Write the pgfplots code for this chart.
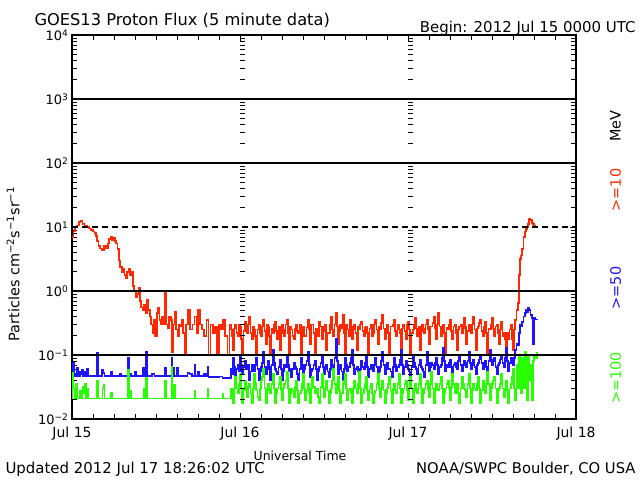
\documentclass[border=0pt]{standalone}
\usepackage{pgfplots}
\pgfplotsset{compat=1.18}
\usepackage{fontspec}
\setmainfont{DejaVu Sans}
\definecolor{pred}{RGB}{255,40,0}
\definecolor{pblue}{RGB}{30,20,255}
\definecolor{pgreen}{RGB}{40,255,0}
\begin{document}
\begin{tikzpicture}[x=1bp,y=1bp]
\begin{axis}[
  at={(0,0)}, anchor=south west,
  width=504bp, height=384bp, scale only axis,
  xmin=0, xmax=72,
  ymode=log, ymin=0.01, ymax=10000,
  xtick={0,24,48,72},
  xticklabels={Jul 15,Jul 16,Jul 17,Jul 18},
  minor xtick={3,6,9,12,15,18,21,27,30,33,36,39,42,45,51,54,57,60,63,66,69},
  ytick={0.01,0.1,1,10,100,1000,10000},
  yticklabels={10\textsuperscript{−2},10\textsuperscript{−1},10\textsuperscript{0},10\textsuperscript{1},10\textsuperscript{2},10\textsuperscript{3},10\textsuperscript{4}},
  tick align=inside,
  major tick length=6bp, minor tick length=5bp,
  tick style={black, line width=0.8bp},
  axis line style={black, line width=1.2bp},
  xticklabel style={font=\fontsize{14}{16}\selectfont, yshift=-4bp},
  yticklabel style={font=\fontsize{13}{15}\selectfont},
  every axis plot/.append style={const plot, line width=1.7bp},
  clip=true,
]
% >=10 MeV (x in hours from Jul 15 00:00 UT)
\addplot[pred] coordinates {
(0.0,7.0) (0.2,8.5) (0.4,10) (0.7,10.5) (1.0,12) (1.2,12.5) (1.5,11) (1.8,10.5)
(2.1,10) (2.4,9.5) (2.7,9) (3.0,8.5) (3.2,8.0) (3.4,7.2) (3.6,6.0) (3.8,5.0)
(4.0,4.6) (4.3,4.4) (4.6,5.0) (4.9,4.7) (5.1,5.5) (5.3,6.5) (5.5,7.0) (5.7,6.2)
(5.9,6.8) (6.1,6.0) (6.3,5.5) (6.5,4.5) (6.7,3.0) (6.9,2.4) (7.1,2.0) (7.3,2.2)
(7.5,1.8) (7.7,1.6) (7.9,2.0) (8.1,2.2) (8.3,1.8) (8.5,2.0) (8.7,1.2) (8.9,1.0)
(9.1,0.8) (9.3,0.9) (9.5,1.1) (9.7,0.7) (9.9,0.55) (10.1,0.5) (10.3,0.6) (10.5,0.45)
(10.7,0.72) (10.9,0.5) (11.1,0.4) (11.3,0.3) (11.5,0.22) (11.7,0.35) (11.9,0.2) (12.1,0.45)
(12.3,0.55) (12.5,0.35) (12.7,0.3) (12.9,0.4) (13.1,0.3) (13.3,0.97) (13.5,0.3) (13.7,0.26)
(13.9,0.4) (14.1,0.35) (14.3,0.11) (14.5,0.3) (14.7,0.47) (14.9,0.25) (15.1,0.2) (15.3,0.3)
(15.5,0.28) (15.7,0.35) (15.9,0.22) (16.1,0.1) (16.3,0.3) (16.6,0.5) (16.9,0.25) (17.2,0.3)
(17.5,0.4) (17.8,0.22) (18.0,0.5) (18.3,0.3) (18.6,0.25) (18.9,0.2) (19.2,0.35) (19.5,0.1)
(19.8,0.3) (20.1,0.22) (20.4,0.28) (20.7,0.1) (21.0,0.3) (21.3,0.25) (21.6,0.35) (21.9,0.2)
(22.2,0.1) (22.5,0.3)
(22.67,0.25) (22.83,0.2) (23.00,0.12) (23.17,0.26) (23.33,0.3) (23.5,0.22) (23.67,0.2) (23.83,0.3)
(24.00,0.28) (24.17,0.18) (24.33,0.1) (24.5,0.24) (24.67,0.33) (24.83,0.26) (25.00,0.22) (25.17,0.3)
(25.33,0.4) (25.5,0.22) (25.67,0.18) (25.83,0.28) (26.00,0.25) (26.17,0.2) (26.33,0.1) (26.5,0.25)
(26.67,0.3) (26.83,0.22) (27.00,0.2) (27.17,0.28) (27.33,0.36) (27.5,0.24) (27.67,0.15) (27.83,0.3)
(28.00,0.28) (28.17,0.2) (28.33,0.1) (28.5,0.26) (28.67,0.22) (28.83,0.3) (29.00,0.33) (29.17,0.24)
(29.33,0.18) (29.5,0.28) (29.67,0.12) (29.83,0.22) (30.00,0.3) (30.17,0.25) (30.33,0.2) (30.5,0.3)
(30.67,0.36) (30.83,0.22) (31.00,0.1) (31.17,0.28) (31.33,0.25) (31.5,0.2) (31.67,0.18) (31.83,0.26)
(32.00,0.3) (32.17,0.24) (32.33,0.22) (32.5,0.3) (32.67,0.1) (32.83,0.22) (33.00,0.28) (33.17,0.2)
(33.33,0.2) (33.5,0.27) (33.67,0.36) (33.83,0.25) (34.00,0.15) (34.17,0.3) (34.33,0.3) (34.5,0.22)
(34.67,0.1) (34.83,0.26) (35.00,0.25) (35.17,0.2) (35.33,0.33) (35.5,0.28) (35.67,0.18) (35.83,0.24)
(36.00,0.28) (36.17,0.3) (36.33,0.12) (36.5,0.22) (36.67,0.22) (36.83,0.3) (37.00,0.4) (37.17,0.25)
(37.33,0.2) (37.5,0.3) (37.67,0.45) (37.83,0.28) (38.00,0.15) (38.17,0.24) (38.33,0.3) (38.5,0.26)
(38.67,0.42) (38.83,0.22) (39.00,0.1) (39.17,0.3) (39.33,0.25) (39.5,0.2) (39.67,0.36) (39.83,0.28)
(40.00,0.18) (40.17,0.25) (40.33,0.3) (40.5,0.22) (40.67,0.12) (40.83,0.28) (41.00,0.25) (41.17,0.3)
(41.33,0.33) (41.5,0.24) (41.67,0.2) (41.83,0.27) (42.00,0.28) (42.17,0.22) (42.33,0.1) (42.5,0.26)
(42.67,0.3) (42.83,0.2) (43.00,0.22) (43.17,0.3) (43.33,0.36) (43.5,0.25) (43.67,0.15) (43.83,0.28)
(44.00,0.25) (44.17,0.32) (44.33,0.42) (44.5,0.26) (44.67,0.18) (44.83,0.24) (45.00,0.3) (45.17,0.22)
(45.33,0.1) (45.5,0.28) (45.67,0.28) (45.83,0.3) (46.00,0.36) (46.17,0.24) (46.33,0.2) (46.5,0.3)
(46.67,0.25) (46.83,0.22) (47.00,0.12) (47.17,0.26) (47.33,0.3) (47.5,0.24) (47.67,0.18) (47.83,0.3)
(48.00,0.33) (48.17,0.25) (48.33,0.1) (48.5,0.22) (48.67,0.25) (48.83,0.3) (49.00,0.38) (49.17,0.26)
(49.33,0.2) (49.5,0.28) (49.67,0.12) (49.83,0.24) (50.00,0.3) (50.17,0.26) (50.33,0.22) (50.5,0.3)
(50.67,0.36) (50.83,0.25) (51.00,0.15) (51.17,0.28) (51.33,0.28) (51.5,0.32) (51.67,0.4) (51.83,0.26)
(52.00,0.18) (52.17,0.3) (52.33,0.45) (52.5,0.28) (52.67,0.2) (52.83,0.25) (53.00,0.3) (53.17,0.22)
(53.33,0.1) (53.5,0.27) (53.67,0.25) (53.83,0.3) (54.00,0.36) (54.17,0.24) (54.33,0.18) (54.5,0.28)
(54.67,0.3) (54.83,0.22) (55.00,0.12) (55.17,0.25) (55.33,0.28) (55.5,0.3) (55.67,0.22) (55.83,0.26)
(56.00,0.38) (56.17,0.28) (56.33,0.15) (56.5,0.24) (56.67,0.3) (56.83,0.26) (57.00,0.22) (57.17,0.3)
(57.33,0.4) (57.5,0.25) (57.67,0.12) (57.83,0.26) (58.00,0.28) (58.17,0.32) (58.33,0.36) (58.5,0.24)
(58.67,0.2) (58.83,0.28) (59.00,0.33) (59.17,0.22) (59.33,0.1) (59.5,0.26) (59.67,0.25) (59.83,0.3)
(60.00,0.38) (60.17,0.26) (60.33,0.2) (60.5,0.28) (60.67,0.3) (60.83,0.22) (61.00,0.15) (61.17,0.25)
(61.33,0.33) (61.5,0.2) (61.67,0.22) (61.83,0.18) (62.00,0.12) (62.17,0.22) (62.33,0.18) (62.5,0.25)
(62.67,0.3) (62.83,0.18) (63.00,0.12) (63.17,0.25) (63.33,0.35)
(63.5,0.5) (63.67,0.65) (63.83,1.8) (64.0,3.2) (64.17,3.6) (64.33,4.5) (64.5,7) (64.67,8.5)
(64.83,9.2) (65.0,10) (65.17,11) (65.33,13.5) (65.5,13) (65.67,11.5) (65.83,11) (66.0,10.5)
(66.17,10.2) (66.42,10)
};
% >=50 MeV
\addplot[pblue] coordinates {
(0,0.047) (0.05,0.075) (0.25,0.05) (0.4,0.047) (0.7,0.063) (0.85,0.047) (1.1,0.055) (1.25,0.05)
(1.4,0.058) (1.55,0.047) (1.8,0.055) (1.95,0.047) (2.1,0.06) (2.25,0.047) (3.55,0.107) (3.7,0.047)
(4.3,0.058) (4.5,0.052) (4.65,0.047) (5.55,0.055) (5.7,0.047) (6.8,0.05) (7.0,0.047) (7.95,0.09)
(8.1,0.047) (8.3,0.05) (8.45,0.047) (9.0,0.055) (9.2,0.047) (10.1,0.063) (10.25,0.047) (10.55,0.11)
(10.7,0.047) (11.4,0.05) (11.8,0.047) (13.25,0.063) (13.4,0.047) (14.2,0.09) (14.35,0.047) (14.5,0.063)
(14.65,0.047) (15.0,0.063) (15.15,0.047) (16.5,0.052) (16.8,0.05) (17.1,0.047) (17.5,0.07) (17.65,0.047)
(18.0,0.055) (18.15,0.047) (18.9,0.05) (19.1,0.047) (19.35,0.065) (19.5,0.045) (21.0,0.046) (21.5,0.044)
(22.67,0.06) (22.83,0.05) (23.00,0.09) (23.17,0.065) (23.33,0.045) (23.5,0.06) (23.67,0.07) (23.83,0.055)
(24.00,0.1) (24.17,0.07) (24.33,0.05) (24.5,0.065) (24.67,0.08) (24.83,0.06) (25.00,0.06) (25.17,0.07)
(25.33,0.04) (25.5,0.055) (25.67,0.07) (25.83,0.06) (26.00,0.055) (26.17,0.07) (26.33,0.09) (26.5,0.06)
(26.67,0.04) (26.83,0.055) (27.00,0.065) (27.17,0.075) (27.33,0.11) (27.5,0.065) (27.67,0.05) (27.83,0.06)
(28.00,0.08) (28.17,0.065) (28.33,0.04) (28.5,0.07) (28.67,0.12) (28.83,0.075) (29.00,0.06) (29.17,0.055)
(29.33,0.05) (29.5,0.065) (29.67,0.085) (29.83,0.06) (30.00,0.04) (30.17,0.055) (30.33,0.07) (30.5,0.065)
(30.67,0.1) (30.83,0.07) (31.00,0.055) (31.17,0.06) (31.33,0.045) (31.5,0.06) (31.67,0.075) (31.83,0.065)
(32.00,0.06) (32.17,0.05) (32.33,0.04) (32.5,0.06) (32.67,0.09) (32.83,0.07) (33.00,0.05) (33.17,0.06)
(33.33,0.07) (33.5,0.08) (33.67,0.11) (33.83,0.07) (34.00,0.045) (34.17,0.055) (34.33,0.06) (34.5,0.07)
(34.67,0.08) (34.83,0.06) (35.00,0.04) (35.17,0.055) (35.33,0.065) (35.5,0.075) (35.67,0.1) (35.83,0.065)
(36.00,0.05) (36.17,0.06) (36.33,0.07) (36.5,0.055) (36.67,0.045) (36.83,0.06) (37.00,0.085) (37.17,0.07)
(37.33,0.06) (37.5,0.09) (37.67,0.18) (37.83,0.08) (38.00,0.05) (38.17,0.06) (38.33,0.07) (38.5,0.055)
(38.67,0.04) (38.83,0.06) (39.00,0.09) (39.17,0.07) (39.33,0.055) (39.5,0.065) (39.67,0.075) (39.83,0.09)
(40.00,0.12) (40.17,0.07) (40.33,0.05) (40.5,0.06) (40.67,0.065) (40.83,0.055) (41.00,0.04) (41.17,0.06)
(41.33,0.08) (41.5,0.065) (41.67,0.06) (41.83,0.075) (42.00,0.1) (42.17,0.065) (42.33,0.045) (42.5,0.06)
(42.67,0.07) (42.83,0.06) (43.00,0.055) (43.17,0.07) (43.33,0.09) (43.5,0.065) (43.67,0.04) (43.83,0.055)
(44.00,0.065) (44.17,0.08) (44.33,0.11) (44.5,0.07) (44.67,0.05) (44.83,0.065) (45.00,0.075) (45.17,0.06)
(45.33,0.06) (45.5,0.055) (45.67,0.045) (45.83,0.065) (46.00,0.09) (46.17,0.07) (46.33,0.055) (46.5,0.065)
(46.67,0.07) (46.83,0.085) (47.00,0.12) (47.17,0.07) (47.33,0.05) (47.5,0.065) (47.67,0.08) (47.83,0.07)
(48.00,0.06) (48.17,0.055) (48.33,0.04) (48.5,0.065) (48.67,0.1) (48.83,0.075) (49.00,0.065) (49.17,0.06)
(49.33,0.05) (49.5,0.07) (49.67,0.085) (49.83,0.065) (50.00,0.06) (50.17,0.055) (50.33,0.045) (50.5,0.07)
(50.67,0.11) (50.83,0.075) (51.00,0.055) (51.17,0.065) (51.33,0.075) (51.5,0.07) (51.67,0.06) (51.83,0.075)
(52.00,0.09) (52.17,0.07) (52.33,0.05) (52.5,0.065) (52.67,0.07) (52.83,0.09) (53.00,0.13) (53.17,0.08)
(53.33,0.055) (53.5,0.07) (53.67,0.065) (53.83,0.075) (54.00,0.085) (54.17,0.065) (54.33,0.05) (54.5,0.07)
(54.67,0.075) (54.83,0.065) (55.00,0.06) (55.17,0.08) (55.33,0.1) (55.5,0.07) (55.67,0.055) (55.83,0.07)
(56.00,0.08) (56.17,0.075) (56.33,0.065) (56.5,0.08) (56.67,0.11) (56.83,0.075) (57.00,0.06) (57.17,0.07)
(57.33,0.085) (57.5,0.065) (57.67,0.05) (57.83,0.07) (58.00,0.075) (58.17,0.085) (58.33,0.1) (58.5,0.075)
(58.67,0.06) (58.83,0.07) (59.00,0.08) (59.17,0.065) (59.33,0.055) (59.5,0.08) (59.67,0.12) (59.83,0.085)
(60.00,0.07) (60.17,0.08) (60.33,0.09) (60.5,0.065) (60.67,0.05) (60.83,0.07) (61.00,0.075) (61.17,0.085)
(61.33,0.1) (61.5,0.075) (61.67,0.065) (61.83,0.09) (62.00,0.13) (62.17,0.08) (62.33,0.055) (62.5,0.075)
(62.67,0.09) (62.83,0.08) (63.00,0.07) (63.17,0.09) (63.33,0.12)
(63.5,0.15) (63.67,0.14) (63.83,0.22) (64.0,0.3) (64.17,0.28) (64.33,0.33) (64.5,0.4) (64.67,0.45)
(64.83,0.5) (65.0,0.47) (65.17,0.55) (65.33,0.5) (65.5,0.42) (65.67,0.38) (65.83,0.15) (66.0,0.38)
(66.17,0.36) (66.42,0.35)
};
% >=100 MeV
\addplot[pgreen] coordinates {
(0,0.021) (0.05,0.052) (0.2,0.03) (0.35,0.021) (0.6,0.036) (0.75,0.021) (1.1,0.028) (1.3,0.021)
(1.5,0.032) (1.65,0.025) (1.8,0.035) (1.95,0.021) (2.1,0.03) (2.25,0.021) (3.55,0.04) (3.7,0.021)
(4.35,0.03) (4.5,0.034) (4.65,0.021) (5.55,0.026) (5.7,0.021) (7.95,0.058) (8.1,0.021) (8.3,0.028)
(8.45,0.021) (10.25,0.03) (10.4,0.021) (10.55,0.044) (10.7,0.021) (13.25,0.04) (13.4,0.021) (14.2,0.065)
(14.35,0.021) (14.55,0.034) (14.7,0.021) (17.5,0.028) (17.65,0.021) (19.35,0.03) (19.5,0.021) (21.5,0.025)
(21.65,0.021)
(22.67,0.03) (22.83,0.022) (23.00,0.018) (23.17,0.03) (23.33,0.045) (23.5,0.03) (23.67,0.025) (23.83,0.035)
(24.00,0.05) (24.17,0.03) (24.33,0.018) (24.5,0.028) (24.67,0.04) (24.83,0.03) (25.00,0.022) (25.17,0.032)
(25.33,0.035) (25.5,0.025) (25.67,0.018) (25.83,0.03) (26.00,0.05) (26.17,0.035) (26.33,0.028) (26.5,0.022)
(26.67,0.02) (26.83,0.03) (27.00,0.04) (27.17,0.045) (27.33,0.06) (27.5,0.03) (27.67,0.018) (27.83,0.028)
(28.00,0.035) (28.17,0.03) (28.33,0.025) (28.5,0.035) (28.67,0.05) (28.83,0.03) (29.00,0.018) (29.17,0.025)
(29.33,0.03) (29.5,0.035) (29.67,0.045) (29.83,0.028) (30.00,0.02) (30.17,0.03) (30.33,0.035) (30.5,0.04)
(30.67,0.055) (30.83,0.03) (31.00,0.018) (31.17,0.025) (31.33,0.03) (31.5,0.028) (31.67,0.022) (31.83,0.032)
(32.00,0.04) (32.17,0.028) (32.33,0.018) (32.5,0.025) (32.67,0.028) (32.83,0.035) (33.00,0.05) (33.17,0.03)
(33.33,0.02) (33.5,0.028) (33.67,0.035) (33.83,0.025) (34.00,0.018) (34.17,0.03) (34.33,0.045) (34.5,0.032)
(34.67,0.025) (34.83,0.03) (35.00,0.03) (35.17,0.022) (35.33,0.018) (35.5,0.032) (35.67,0.05) (35.83,0.03)
(36.00,0.022) (36.17,0.03) (36.33,0.04) (36.5,0.028) (36.67,0.018) (36.83,0.025) (37.00,0.03) (37.17,0.04)
(37.33,0.06) (37.5,0.035) (37.67,0.025) (37.83,0.032) (38.00,0.045) (38.17,0.028) (38.33,0.018) (38.5,0.025)
(38.67,0.035) (38.83,0.04) (39.00,0.05) (39.17,0.03) (39.33,0.02) (39.5,0.028) (39.67,0.03) (39.83,0.025)
(40.00,0.018) (40.17,0.03) (40.33,0.04) (40.5,0.03) (40.67,0.025) (40.83,0.035) (41.00,0.055) (41.17,0.03)
(41.33,0.018) (41.5,0.025) (41.67,0.03) (41.83,0.035) (42.00,0.045) (42.17,0.028) (42.33,0.02) (42.5,0.03)
(42.67,0.035) (42.83,0.025) (43.00,0.018) (43.17,0.025) (43.33,0.028) (43.5,0.035) (43.67,0.05) (43.83,0.03)
(44.00,0.022) (44.17,0.03) (44.33,0.04) (44.5,0.028) (44.67,0.018) (44.83,0.025) (45.00,0.03) (45.17,0.035)
(45.33,0.045) (45.5,0.028) (45.67,0.018) (45.83,0.03) (46.00,0.035) (46.17,0.028) (46.33,0.025) (46.5,0.035)
(46.67,0.05) (46.83,0.03) (47.00,0.018) (47.17,0.025) (47.33,0.03) (47.5,0.035) (47.67,0.04) (47.83,0.028)
(48.00,0.02) (48.17,0.03) (48.33,0.045) (48.5,0.03) (48.67,0.018) (48.83,0.028) (49.00,0.035) (49.17,0.03)
(49.33,0.025) (49.5,0.035) (49.67,0.05) (49.83,0.03) (50.00,0.018) (50.17,0.025) (50.33,0.03) (50.5,0.035)
(50.67,0.04) (50.83,0.028) (51.00,0.022) (51.17,0.035) (51.33,0.055) (51.5,0.03) (51.67,0.018) (51.83,0.028)
(52.00,0.035) (52.17,0.03) (52.33,0.028) (52.5,0.035) (52.67,0.045) (52.83,0.03) (53.00,0.018) (53.17,0.025)
(53.33,0.03) (53.5,0.035) (53.67,0.04) (53.83,0.03) (54.00,0.02) (54.17,0.032) (54.33,0.05) (54.5,0.035)
(54.67,0.025) (54.83,0.03) (55.00,0.035) (55.17,0.025) (55.33,0.018) (55.5,0.03) (55.67,0.045) (55.83,0.035)
(56.00,0.03) (56.17,0.028) (56.33,0.022) (56.5,0.035) (56.67,0.05) (56.83,0.03) (57.00,0.018) (57.17,0.028)
(57.33,0.035) (57.5,0.03) (57.67,0.028) (57.83,0.035) (58.00,0.045) (58.17,0.03) (58.33,0.018) (58.5,0.028)
(58.67,0.04) (58.83,0.032) (59.00,0.025) (59.17,0.035) (59.33,0.055) (59.5,0.035) (59.67,0.02) (59.83,0.03)
(60.00,0.035) (60.17,0.04) (60.33,0.045) (60.5,0.03) (60.67,0.018) (60.83,0.028) (61.00,0.03) (61.17,0.035)
(61.33,0.05) (61.5,0.03) (61.67,0.022) (61.83,0.03) (62.00,0.04) (62.17,0.028) (62.33,0.018) (62.5,0.03)
(62.67,0.035) (62.83,0.045) (63.00,0.06) (63.17,0.03) (63.33,0.02)
(63.5,0.07) (63.67,0.03) (63.83,0.1) (64.0,0.04) (64.17,0.025) (64.33,0.09) (64.5,0.03) (64.67,0.11)
(64.83,0.05) (65.0,0.02) (65.17,0.1) (65.33,0.04) (65.5,0.07) (65.67,0.02) (65.83,0.08) (66.0,0.1)
(66.17,0.09) (66.42,0.11)
};
\end{axis}
% decade lines, 10^1 dashed
\draw[line width=1.2bp] (0,64) -- (504,64);
\draw[line width=1.2bp] (0,128) -- (504,128);
\draw[line width=1.2bp, dash pattern=on 6bp off 4bp] (0,192) -- (504,192);
\draw[line width=1.2bp] (0,256) -- (504,256);
\draw[line width=1.2bp] (0,320) -- (504,320);
% minor log ticks along the day lines
\foreach \xd in {168,336}{
  \foreach \d in {-2,...,3}{
    \foreach \m in {2,...,9}{
      \draw[line width=0.8bp] (\xd,{64*(\d+2+log10(\m))}) -- ++(5,0);
    }
  }
}
\node[anchor=base west, font=\fontsize{16.3}{18}\selectfont] at (-41,393) {GOES13 Proton Flux (5 minute data)};
\node[anchor=base east, font=\fontsize{15}{17}\selectfont] at (567,386) {Begin: 2012 Jul 15 0000 UTC};
\node[anchor=base, font=\fontsize{12.5}{14}\selectfont] at (228,-42) {Universal Time};
\node[anchor=base west, font=\fontsize{15}{17}\selectfont] at (-70,-55) {Updated 2012 Jul 17 18:26:02 UTC};
\node[anchor=base east, font=\fontsize{14.8}{17}\selectfont] at (567,-55) {NOAA/SWPC Boulder, CO USA};
\node[rotate=90, font=\fontsize{14.5}{17}\selectfont] at (-59,155) {Particles cm\textsuperscript{−2}s\textsuperscript{−1}sr\textsuperscript{−1}};
\node[rotate=90, font=\fontsize{14.5}{17}\selectfont] at (543.5,293) {MeV};
\node[rotate=90, font=\fontsize{14.5}{17}\selectfont, text=pred] at (543.5,229) {>=10};
\node[rotate=90, font=\fontsize{14.5}{17}\selectfont, text=pblue] at (543.5,131) {>=50};
\node[rotate=90, font=\fontsize{14.5}{17}\selectfont, text=pgreen] at (543.5,41) {>=100};
\useasboundingbox (-72,-61) rectangle (568,419);
\end{tikzpicture}
\end{document}
